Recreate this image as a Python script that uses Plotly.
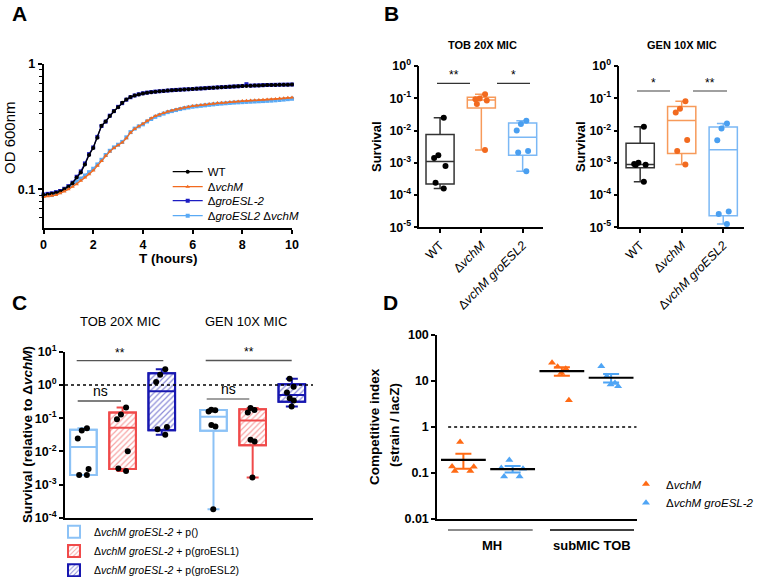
import numpy as np
import plotly.graph_objects as go

W, H = 764, 577
FONT = "Liberation Sans"

# ---------------- Panel A: growth curves (OD600, every 10 min) ----------------
time_min = [0, 10, 20, 30, 40, 50, 60, 70, 80, 90, 100, 110, 120, 130, 140, 150, 160, 170, 180, 190,
            200, 210, 220, 230, 240, 250, 260, 270, 280, 290, 300, 310, 320, 330, 340, 350, 360, 370,
            380, 390, 400, 410, 420, 430, 440, 450, 460, 470, 480, 490, 500, 510, 520, 530, 540, 550,
            560, 570, 580, 590, 600]
od_wt = [0.090, 0.091, 0.092, 0.094, 0.096, 0.100, 0.105, 0.112, 0.124, 0.136, 0.158, 0.188, 0.214,
         0.258, 0.322, 0.348, 0.385, 0.420, 0.452, 0.490, 0.522, 0.545, 0.560, 0.572, 0.582, 0.590,
         0.596, 0.601, 0.605, 0.609, 0.614, 0.618, 0.621, 0.624, 0.627, 0.630, 0.633, 0.636, 0.638,
         0.641, 0.644, 0.647, 0.650, 0.653, 0.655, 0.658, 0.661, 0.663, 0.666, 0.669, 0.671, 0.673,
         0.675, 0.677, 0.679, 0.680, 0.681, 0.682, 0.683, 0.684, 0.685]
od_vchm = [0.087, 0.088, 0.089, 0.090, 0.093, 0.096, 0.100, 0.105, 0.110, 0.117, 0.124, 0.132, 0.141,
           0.154, 0.168, 0.185, 0.200, 0.214, 0.225, 0.236, 0.255, 0.283, 0.303, 0.318, 0.333, 0.352,
           0.369, 0.385, 0.396, 0.407, 0.418, 0.426, 0.434, 0.442, 0.449, 0.456, 0.462, 0.466, 0.470,
           0.475, 0.479, 0.484, 0.488, 0.491, 0.494, 0.497, 0.500, 0.503, 0.506, 0.508, 0.511, 0.513,
           0.515, 0.518, 0.520, 0.523, 0.526, 0.530, 0.533, 0.537, 0.540]
od_groesl2 = [0.091, 0.092, 0.093, 0.095, 0.097, 0.101, 0.106, 0.113, 0.126, 0.139, 0.161, 0.191, 0.216,
              0.262, 0.320, 0.347, 0.387, 0.421, 0.455, 0.487, 0.519, 0.543, 0.561, 0.574, 0.584, 0.591,
              0.597, 0.602, 0.606, 0.610, 0.614, 0.618, 0.621, 0.624, 0.627, 0.629, 0.632, 0.636, 0.638,
              0.641, 0.645, 0.647, 0.651, 0.654, 0.656, 0.659, 0.662, 0.664, 0.668, 0.690, 0.672, 0.674,
              0.676, 0.678, 0.680, 0.681, 0.682, 0.683, 0.684, 0.685, 0.686]
od_double = [0.089, 0.090, 0.090, 0.092, 0.095, 0.099, 0.104, 0.109, 0.115, 0.122, 0.129, 0.137, 0.146,
             0.158, 0.172, 0.188, 0.203, 0.216, 0.227, 0.239, 0.260, 0.286, 0.305, 0.318, 0.330, 0.348,
             0.364, 0.379, 0.391, 0.402, 0.413, 0.421, 0.429, 0.437, 0.444, 0.450, 0.456, 0.460, 0.464,
             0.468, 0.472, 0.476, 0.480, 0.483, 0.486, 0.489, 0.492, 0.494, 0.496, 0.498, 0.500, 0.502,
             0.504, 0.506, 0.508, 0.510, 0.513, 0.516, 0.520, 0.524, 0.528]
a_names = ["WT", "Δ<i>vchM</i>", "Δ<i>groESL-2</i>", "Δ<i>groESL2</i> Δ<i>vchM</i>"]
a_xticks = [0, 2, 4, 6, 8, 10]
a_ytickvals = [0.1, 1]
a_yticktext = ["0.1", "1"]
a_yminor = [0.06, 0.07, 0.08, 0.09, 0.2, 0.3, 0.4, 0.5, 0.6, 0.7, 0.8, 0.9]

# ---------------- Panel B: survival boxes ----------------
b_categories = ["WT", "vchM", "vchM_groESL2"]
b_xticktext = ["WT", "Δ<i>vchM</i>", "Δ<i>vchM groESL2</i>"]
b_tob_wt = [0.025, 0.0017, 0.0014, 0.00079, 0.00024, 0.00016]
b_tob_vchm = [0.133, 0.098, 0.093, 0.085, 0.066, 0.0025]
b_tob_dbl = [0.020, 0.016, 0.010, 0.0023, 0.0021, 0.00055]
b_gen_wt = [0.013, 0.0010, 0.00091, 0.00087, 0.00085, 0.00026]
b_gen_vchm = [0.081, 0.047, 0.036, 0.0051, 0.0023, 0.00089]
b_gen_dbl = [0.0165, 0.0115, 0.0050, 0.000031, 0.000026, 0.0000126]
b_ytickvals = [1e-5, 1e-4, 1e-3, 1e-2, 1e-1, 1]
b_yticktext = ["10<sup>-5</sup>", "10<sup>-4</sup>", "10<sup>-3</sup>", "10<sup>-2</sup>",
               "10<sup>-1</sup>", "10<sup>0</sup>"]

# ---------------- Panel C: complementation ----------------
c_tob_empty = [0.050, 0.043, 0.0245, 0.00295, 0.00195, 0.00195]
c_tob_g1 = [0.209, 0.129, 0.093, 0.0102, 0.0031, 0.00257]
c_tob_g2 = [2.95, 2.04, 1.23, 0.054, 0.047, 0.0316]
c_gen_empty = [0.180, 0.175, 0.158, 0.063, 0.056, 0.000182]
c_gen_g1 = [0.204, 0.178, 0.148, 0.0224, 0.020, 0.00166]
c_gen_g2 = [1.55, 0.89, 0.59, 0.40, 0.34, 0.224]
c_names = ["Δ<i>vchM groESL-2</i> + p()", "Δ<i>vchM groESL-2</i> + p(groESL1)",
           "Δ<i>vchM groESL-2</i> + p(groESL2)"]
c_ytickvals = [1e-4, 1e-3, 1e-2, 1e-1, 1, 10]
c_yticktext = ["10<sup>-4</sup>", "10<sup>-3</sup>", "10<sup>-2</sup>", "10<sup>-1</sup>",
               "10<sup>0</sup>", "10<sup>1</sup>"]

# ---------------- Panel D: competitive index ----------------
d_groups = ["MH", "subMIC TOB"]
d_vchm_mh = [0.47, 0.137, 0.110, 0.110, 0.139]
d_vchm_tob = [24.8, 18.4, 20.3, 15.0, 3.81]
d_dbl_mh = [0.191, 0.123, 0.128, 0.084, 0.084]
d_dbl_tob = [20.9, 12.7, 9.1, 8.4, 7.7]
d_names = ["Δ<i>vchM</i>", "Δ<i>vchM groESL-2</i>"]
d_ytickvals = [0.01, 0.1, 1, 10, 100]
d_yticktext = ["0.01", "0.1", "1", "10", "100"]

# ---------------- styles ----------------
BLACK = "#000000"
ORANGE = "#F26A1F"
DBLUE = "#1C1CC2"
LBLUE = "#5AAAF5"
B_LINE = ["#333333", "#F79A5A", "#7BB8F5"]
B_PT = ["#000000", "#F26A1F", "#4A9FF0"]
C_COL = ["#8CC2F6", "#F04A4A", "#1717B0"]
C_PAT = ["", "/", "/"]
D_COL = ["#FF6A14", "#4FA5F5"]


def box_stats(v):
    q1, med, q3 = np.percentile(v, [25, 50, 75], method="weibull")
    return float(q1), float(med), float(q3), float(min(v)), float(max(v))


def px(x):
    return x / W


def py(y):
    return 1 - y / H


fig = go.Figure()

# ---- A (drawn so that WT / ΔvchM sit on top, as in the reference) ----
t_hours = [m / 60 for m in time_min]
a_series = [(od_wt, a_names[0], BLACK, "circle", "legend"),
            (od_vchm, a_names[1], ORANGE, "triangle-up", "legend2"),
            (od_groesl2, a_names[2], DBLUE, "square", "legend3"),
            (od_double, a_names[3], LBLUE, "square", "legend4")]
for idx in [2, 3, 0, 1]:
    vals, name, col, sym, leg = a_series[idx]
    fig.add_trace(go.Scatter(x=t_hours, y=vals, mode="lines+markers", name=name,
                             line=dict(color=col, width=1.3),
                             marker=dict(symbol=sym, size=4, color=col),
                             cliponaxis=False, xaxis="x", yaxis="y", legend=leg))

# ---- B ----
for ax, series in [(2, [b_tob_wt, b_tob_vchm, b_tob_dbl]), (3, [b_gen_wt, b_gen_vchm, b_gen_dbl])]:
    for cat, vals, lc, pc in zip(b_categories, series, B_LINE, B_PT):
        q1, med, q3, lo, hi = box_stats(vals)
        fig.add_trace(go.Box(x=[cat], q1=[q1], median=[med], q3=[q3], lowerfence=[lo], upperfence=[hi],
                             width=0.68, whiskerwidth=0.45, fillcolor="rgba(0,0,0,0)",
                             line=dict(color=lc, width=1.5), showlegend=False, hoverinfo="skip",
                             xaxis=f"x{ax}", yaxis=f"y{ax}"))
        fig.add_trace(go.Box(x=[cat] * len(vals), y=vals, boxpoints="all", jitter=0.5, pointpos=0,
                             width=0.68, fillcolor="rgba(0,0,0,0)", line=dict(width=0),
                             marker=dict(color=pc, size=6), showlegend=False,
                             xaxis=f"x{ax}", yaxis=f"y{ax}"))

# ---- C ----
c_group_offset = [0, 3.32]
c_sets = [(c_tob_empty, c_gen_empty), (c_tob_g1, c_gen_g1), (c_tob_g2, c_gen_g2)]
c_legends = ["legend5", "legend6", "legend7"]
for k, ((tob, gen), name, col, pat, leg) in enumerate(zip(c_sets, c_names, C_COL, C_PAT, c_legends)):
    xs = [g + k for g in c_group_offset]
    st = [box_stats(tob), box_stats(gen)]
    fig.add_trace(go.Bar(x=xs, base=[s[0] for s in st], y=[s[2] - s[0] for s in st], width=0.68,
                         marker=dict(color="white", line=dict(color=col, width=2),
                                     pattern=dict(shape=pat, fgcolor=col, bgcolor="white",
                                                  size=4, solidity=0.3)),
                         name=name, legend=leg, xaxis="x4", yaxis="y4", hoverinfo="skip"))
    fig.add_trace(go.Box(x=xs, q1=[s[0] for s in st], median=[s[1] for s in st],
                         q3=[s[2] for s in st], lowerfence=[s[3] for s in st],
                         upperfence=[s[4] for s in st], width=0.68, whiskerwidth=0.45,
                         fillcolor="rgba(0,0,0,0)", line=dict(color=col, width=2),
                         showlegend=False, hoverinfo="skip", xaxis="x4", yaxis="y4"))
    fig.add_trace(go.Box(x=[xs[0]] * len(tob) + [xs[1]] * len(gen), y=tob + gen, boxpoints="all",
                         jitter=0.5, pointpos=0, width=0.68, fillcolor="rgba(0,0,0,0)",
                         line=dict(width=0), marker=dict(color="black", size=6),
                         showlegend=False, xaxis="x4", yaxis="y4"))
fig.add_trace(go.Scatter(x=[-0.47, 5.86], y=[1, 1], mode="lines",
                         line=dict(color="black", width=1.5, dash="dot"),
                         showlegend=False, hoverinfo="skip", xaxis="x4", yaxis="y4"))

# ---- D ----
fig.add_trace(go.Scatter(x=[-0.31, 3.52], y=[1, 1], mode="lines",
                         line=dict(color="black", width=1.5, dash="dot"),
                         showlegend=False, hoverinfo="skip", xaxis="x5", yaxis="y5"))
d_sets = [(d_vchm_mh, d_vchm_tob), (d_dbl_mh, d_dbl_tob)]
for k, ((mh, tob), col) in enumerate(zip(d_sets, D_COL)):
    xs = [k, k + 2]
    fig.add_trace(go.Box(x=[xs[0]] * len(mh) + [xs[1]] * len(tob), y=mh + tob, boxpoints="all",
                         jitter=0.8, pointpos=0, width=0.68, fillcolor="rgba(0,0,0,0)",
                         line=dict(width=0), marker=dict(color=col, size=7, symbol="triangle-up"),
                         showlegend=False, xaxis="x5", yaxis="y5"))
    means = [float(np.mean(v)) for v in (mh, tob)]
    sems = [float(np.std(v, ddof=1) / np.sqrt(len(v))) for v in (mh, tob)]
    fig.add_trace(go.Scatter(x=xs, y=means, mode="markers",
                             marker=dict(symbol="line-ew", size=32, color="black",
                                         line=dict(color="black", width=2.2)),
                             error_y=dict(type="data", array=sems, color=col, thickness=2, width=8),
                             showlegend=False, hoverinfo="skip", xaxis="x5", yaxis="y5"))
for name, col, leg in zip(d_names, D_COL, ["legend8", "legend9"]):
    fig.add_trace(go.Scatter(x=[None], y=[None], mode="markers", name=name,
                             marker=dict(color=col, size=7, symbol="triangle-up"),
                             legend=leg, xaxis="x5", yaxis="y5"))

# ---------------- layout ----------------
tickfont_b = dict(family=FONT, size=12.5, color="black", weight="bold")
axis_common = dict(showline=True, linecolor="black", linewidth=1.6, ticks="outside", ticklen=4,
                   tickwidth=1.5, tickcolor="black", showgrid=False, zeroline=False,
                   tickfont=tickfont_b, automargin=False)


def legend_at(x, y, size):
    return dict(x=px(x), y=py(y), xanchor="left", yanchor="middle", bgcolor="rgba(0,0,0,0)",
                font=dict(family=FONT, size=size, color="black"), itemwidth=30, tracegroupgap=0)


layout = dict(
    width=W, height=H, margin=dict(l=0, r=0, t=0, b=0, autoexpand=False),
    paper_bgcolor="white", plot_bgcolor="rgba(0,0,0,0)",
    font=dict(family=FONT, color="black"),
    barmode="overlay", boxmode="overlay",
    xaxis=dict(axis_common, domain=[px(43.5), px(292)], range=[0, 10], tickvals=a_xticks, anchor="y"),
    yaxis=dict(axis_common, domain=[py(228.3), py(64)], type="log", range=[-1.311, 0],
               tickvals=a_ytickvals, ticktext=a_yticktext, anchor="x",
               minor=dict(tickmode="array", tickvals=a_yminor, ticks="outside", ticklen=3,
                          tickwidth=1, tickcolor="black", showgrid=False)),
    xaxis2=dict(axis_common, domain=[px(419.4), px(543.3)], type="category",
                categoryorder="array", categoryarray=b_categories, range=[-0.5, 2.5],
                tickvals=b_categories, ticktext=b_xticktext, tickangle=-45,
                tickfont=dict(family=FONT, size=12.5, color="black"), anchor="y2"),
    yaxis2=dict(axis_common, domain=[py(227.3), py(66)], type="log", range=[-5, 0],
                tickvals=b_ytickvals, ticktext=b_yticktext, anchor="x2"),
    xaxis3=dict(axis_common, domain=[px(619.4), px(744)], type="category",
                categoryorder="array", categoryarray=b_categories, range=[-0.5, 2.5],
                tickvals=b_categories, ticktext=b_xticktext, tickangle=-45,
                tickfont=dict(family=FONT, size=12.5, color="black"), anchor="y3"),
    yaxis3=dict(axis_common, domain=[py(227.3), py(66)], type="log", range=[-5, 0],
                tickvals=b_ytickvals, ticktext=b_yticktext, anchor="x3"),
    xaxis4=dict(axis_common, domain=[px(65), px(313)], range=[-0.47, 5.86], ticks="",
                showticklabels=False, linewidth=2, anchor="y4"),
    yaxis4=dict(axis_common, domain=[py(518), py(351.7)], type="log", range=[-4, 1],
                tickvals=c_ytickvals, ticktext=c_yticktext, linewidth=2, anchor="x4"),
    xaxis5=dict(axis_common, domain=[px(437.3), px(636.7)], range=[-0.53, 3.52], ticks="",
                showticklabels=False, linewidth=2, anchor="y5"),
    yaxis5=dict(axis_common, domain=[py(519), py(335)], type="log", range=[-2, 2],
                tickvals=d_ytickvals, ticktext=d_yticktext, linewidth=2, anchor="x5"),
    legend=legend_at(167.7, 171.7, 11.5), legend2=legend_at(167.7, 186.7, 11.5),
    legend3=legend_at(167.7, 200.7, 11.5), legend4=legend_at(167.7, 215.7, 11.5),
    legend5=legend_at(54, 531.7, 10.5), legend6=legend_at(54, 551, 10.5),
    legend7=legend_at(54, 570.3, 10.5),
    legend8=legend_at(626, 484, 11.5), legend9=legend_at(626, 502.7, 11.5),
)


def ann(text, x, y, size, bold=False, angle=0, xanchor="center", yanchor="middle", color="black"):
    return dict(text=text, x=px(x), y=py(y), xref="paper", yref="paper", showarrow=False,
                font=dict(family=FONT, size=size, color=color, weight="bold" if bold else "normal"),
                textangle=angle, xanchor=xanchor, yanchor=yanchor)


annotations = [
    ann("A", 19, 13, 21, True), ann("B", 391, 13, 21, True),
    ann("C", 19, 302, 21, True), ann("D", 390, 302, 21, True),
    ann("OD 600nm", 9, 138, 15, angle=-90),
    ann("T (hours)", 168, 258, 13.5, True),
    ann("TOB 20X MIC", 482, 45, 11, True), ann("GEN 10X MIC", 682, 45, 11, True),
    ann("Survival", 376, 147, 13, True, angle=-90), ann("Survival", 580, 147, 13, True, angle=-90),
    ann("TOB 20X MIC", 120, 321, 13), ann("GEN 10X MIC", 246, 321, 13),
    ann("Survival (relative to Δ<i>vchM</i>)", 27, 435, 13.5, True, angle=-90),
    ann("Competitive index", 374, 427, 13.5, True, angle=-90),
    ann("(strain / lacZ)", 394, 425, 13.5, True, angle=-90),
    ann("MH", 492, 545, 13, True), ann("subMIC TOB", 592, 545, 13, True),
    ann("**", 453.5, 84, 12, yanchor="bottom"), ann("*", 513.5, 84, 12, yanchor="bottom"),
    ann("*", 653.5, 92, 12, yanchor="bottom"), ann("**", 710, 92, 12, yanchor="bottom"),
    ann("**", 120, 362, 12, yanchor="bottom"), ann("**", 248.7, 361, 12, yanchor="bottom"),
    ann("ns", 100, 401, 14, yanchor="bottom"), ann("ns", 228, 399, 14, yanchor="bottom"),
]


def hline(x0, x1, y, color, width=1.3):
    return dict(type="line", xref="paper", yref="paper", x0=px(x0), x1=px(x1), y0=py(y), y1=py(y),
                line=dict(color=color, width=width))


shapes = [
    hline(437, 470, 83.3, "#333333"), hline(497, 530, 83.3, "#333333"),
    hline(637, 670, 91, "#808080"), hline(693, 727, 91, "#808080"),
    hline(76.7, 163.3, 360.7, "#555555"), hline(77.7, 121, 401, "#555555"),
    hline(205.7, 291.7, 360.5, "#555555"), hline(206.7, 249.3, 399, "#808080"),
    hline(448, 532.7, 530, "#666666"), hline(550, 634, 530, "#000000"),
]

layout["annotations"] = annotations
layout["shapes"] = shapes
fig.update_layout(**layout)
fig.write_html("out.html", config={"displayModeBar": False},
               post_script="document.body.style.margin='0px';")
